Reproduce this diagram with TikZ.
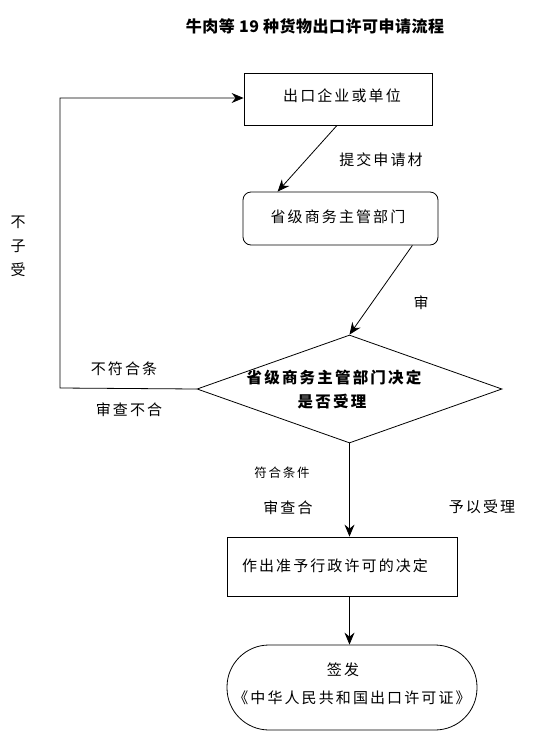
\documentclass[tikz,border=0pt]{standalone}
\usepackage{fontspec}
\setmainfont{Noto Sans CJK SC}[LetterSpace=14]
\newfontfamily\titlefont{Noto Sans CJK SC}[LetterSpace=3]
\usetikzlibrary{arrows.meta,shapes.geometric,calc}
\tikzset{
  base/.style={draw=black, line width=0.8pt, inner sep=0pt, font=\fontsize{15}{17}\selectfont},
  boxstep/.style={base, rectangle},
  roundstep/.style={base, rectangle, rounded corners=8pt},
  decide/.style={base, diamond, shape aspect=2.82},
  terminal/.style={base, rectangle, rounded corners=42pt},
  lbl/.style={inner sep=0pt, font=\fontsize{15}{17}\selectfont},
  flow/.style={line width=0.8pt, -{Stealth[length=12pt,width=10pt,inset=4pt]}},
}
\begin{document}
\begin{tikzpicture}[x=1pt,y=-1pt]
\useasboundingbox (0,0) rectangle (540,742);
\fill[white] (0,0) rectangle (540,742);
\node[inner sep=0pt, font=\titlefont\bfseries\fontsize{16}{18}\selectfont] (title) at (315,26) {牛肉等 19 种货物出口许可申请流程};
\node[boxstep, minimum width=188pt, minimum height=52pt] (b1) at (338,99) {};
\node[lbl] (b1t) at (342,96) {出口企业或单位};
\node[roundstep, minimum width=195pt, minimum height=53pt] (b2) at (340.5,218.5) {};
\node[lbl] (b2t) at (338,217) {省级商务主管部门};
\node[decide, minimum width=305pt, minimum height=108pt] (d) at (349.5,389) {};
\node[lbl, font=\bfseries\fontsize{15.5}{17}\selectfont] (dt1) at (334,378) {省级商务主管部门决定};
\node[lbl, font=\bfseries\fontsize{15.5}{17}\selectfont] (dt2) at (332,402) {是否受理};
\node[boxstep, minimum width=230pt, minimum height=59pt] (b3) at (342,566.5) {};
\node[lbl] (b3t) at (335,566) {作出准予行政许可的决定};
\node[terminal, minimum width=250pt, minimum height=85pt] (t) at (352,687.5) {};
\node[lbl] (t1) at (343,670) {签发};
\node[lbl] (t2) at (352,698) {《中华人民共和国出口许可证》};
% labels
\node[lbl] (l1) at (381,160) {提交申请材};
\node[lbl] (l2) at (421,303) {审};
\node[lbl] (l3) at (124,369) {不符合条};
\node[lbl] (l4) at (129,410) {审查不合};
\node[lbl] (l5a) at (18,222) {不};
\node[lbl] (l5b) at (18,246) {子};
\node[lbl] (l5c) at (18,270) {受};
\node[lbl, font=\fontsize{12.5}{14}\selectfont] (l6) at (282,473) {符合条件};
\node[lbl] (l7) at (288,508) {审查合};
\node[lbl] (l8) at (482,507) {予以受理};
% connectors
\coordinate (c1) at (60,388);
\coordinate (c2) at (60,98);
\draw[flow] (d.west) -- (c1) -- (c2) -- (c2 -| b1.west);
\draw[flow] ($(b1.south)+(-1,0)$) -- ($(b2.north west)+(35,0)$);
\draw[flow] ($(b2.south east)+(-26,0)$) -- (d.north);
\draw[flow] (d.south) -- (d.south |- b3.north);
\draw[flow] (d.south |- b3.south) -- (d.south |- t.north);
\end{tikzpicture}
\end{document}
